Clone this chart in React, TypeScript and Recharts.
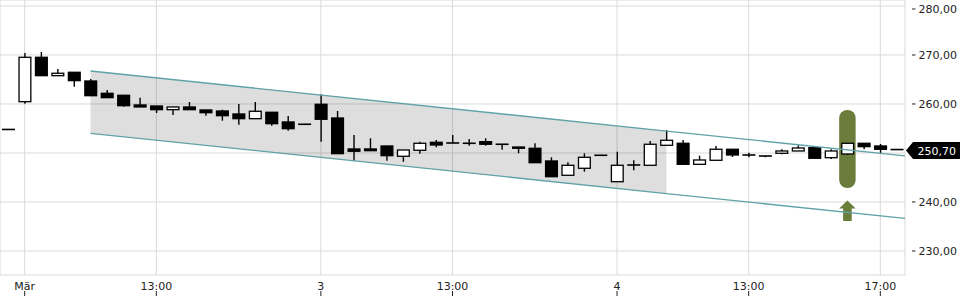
import React from 'react';
import {
  ComposedChart,
  Bar,
  Line,
  Area,
  XAxis,
  YAxis,
  CartesianGrid,
  ReferenceArea,
  ReferenceLine,
} from 'recharts';

// ---- data (30-minute candles, 2.-4. März) ----
const opens = [
  254.8, 260.47, 269.53, 265.78, 266.47, 264.69, 262.18, 261.78, 259.8, 259.59,
  258.84, 259.39, 258.78, 258.57, 257.96, 257.0, 258.31, 256.33, 255.86, 259.94,
  257.14, 250.82, 250.82, 251.43, 249.33, 250.55, 252.18, 252.04, 251.98, 252.31,
  251.78, 251.22, 250.96, 248.37, 245.45, 246.88, 249.53, 244.14, 247.5, 247.49,
  251.57, 251.98, 247.69, 248.51, 250.76, 249.59, 249.39, 249.94, 250.41, 251.08,
  249.04, 249.8, 251.98, 251.43, 250.7,
];
const highs = [
  254.8, 270.41, 270.61, 267.14, 266.47, 265.1, 262.86, 261.78, 261.29, 259.59,
  259.39, 260.41, 258.78, 258.84, 260.0, 260.41, 258.31, 257.55, 255.86, 261.98,
  258.57, 253.67, 253.0, 251.43, 250.61, 252.31, 252.65, 253.67, 252.86, 253.0,
  251.78, 251.22, 251.98, 249.12, 248.1, 249.94, 249.53, 250.27, 248.51, 252.45,
  254.69, 252.65, 249.45, 251.43, 250.76, 250.06, 249.39, 250.76, 251.57, 251.08,
  250.76, 251.98, 251.98, 251.84, 250.7,
];
const lows = [
  254.8, 260.06, 265.78, 265.78, 263.53, 261.69, 261.29, 259.45, 259.39, 258.16,
  257.76, 258.84, 257.61, 256.59, 255.78, 257.0, 255.57, 254.55, 255.86, 252.31,
  249.86, 248.43, 250.47, 248.43, 248.22, 249.86, 251.16, 252.04, 251.49, 251.49,
  250.67, 249.94, 248.02, 245.16, 245.45, 246.18, 249.53, 244.14, 246.47, 247.49,
  251.57, 247.69, 247.69, 248.51, 249.18, 249.12, 249.12, 249.73, 250.41, 248.92,
  248.78, 249.59, 250.76, 249.94, 250.7,
];
const closes = [
  254.8, 269.53, 265.78, 266.27, 264.76, 261.69, 261.29, 259.65, 259.39, 258.84,
  259.39, 258.84, 258.22, 257.61, 257.0, 258.51, 255.98, 254.96, 255.86, 256.88,
  249.86, 250.35, 250.47, 249.45, 250.61, 251.98, 251.63, 252.04, 251.98, 251.78,
  251.78, 250.96, 248.02, 245.16, 247.49, 249.12, 249.53, 247.49, 247.6, 251.78,
  252.59, 247.69, 248.57, 250.76, 249.59, 249.59, 249.39, 250.41, 251.02, 248.92,
  250.41, 251.98, 251.29, 250.76, 250.7,
];

const tickIndex = [1, 9, 19, 27, 37, 45, 53];
const tickLabels = ['Mär', '13:00', '3', '13:00', '4', '13:00', '17:00'];
const yTicks = [230, 240, 250, 260, 270, 280];
const yDomain = [225.1, 281.22];

// trend channel (x in candle index units)
const channelX = [5, 40, 54.5];
const channelUpper = [266.73, 254.48, 249.4];
const channelLower = [254.02, 241.72, 236.65];

const lastPrice = 250.7;
const signalIndex = 51;
const signalRange = [242.86, 258.78];
const arrowRange = [236.12, 240.31];

// ---- derived tables ----
const data = opens.map((o, i) => ({
  i,
  o,
  h: highs[i],
  l: lows[i],
  c: closes[i],
  range: [lows[i], Math.max(highs[i], lows[i] + 0.02)],
}));
const channelLines = channelX.map((x, k) => ({ x, upper: channelUpper[k], lower: channelLower[k] }));
const channelBand = channelX.slice(0, 2).map((x, k) => ({ x, band: [channelLower[k], channelUpper[k]] }));

const FONT = '"DejaVu Sans", sans-serif';
const TEAL = '#5fa2a7';
const GREEN = '#6b7d3a';

const Candle = (props: any) => {
  const { x, y, width, height, payload } = props;
  if (!payload) return null;
  const [lo, hi] = payload.range;
  const k = height / (hi - lo);
  const py = (v: number) => y + (hi - v) * k;
  const cx = x + width / 2;
  const top = py(Math.max(payload.o, payload.c));
  const bot = py(Math.min(payload.o, payload.c));
  const up = payload.c > payload.o;
  const flat = bot - top < 1.2;
  return (
    <g>
      <line x1={cx} x2={cx} y1={py(payload.h)} y2={py(payload.l)} stroke="#000" strokeWidth={1.4} />
      {flat ? (
        <line x1={x} x2={x + width} y1={(top + bot) / 2} y2={(top + bot) / 2} stroke="#000" strokeWidth={1.6} />
      ) : (
        <rect
          x={x + 0.6}
          y={top}
          width={width - 1.2}
          height={bot - top}
          fill={up ? '#fff' : '#000'}
          stroke="#000"
          strokeWidth={1.3}
        />
      )}
    </g>
  );
};

const XTick = (props: any) => {
  const { x, y, payload } = props;
  const idx = tickIndex.indexOf(payload.value);
  return (
    <g>
      <text x={x} y={y + 15} textAnchor="middle" fontFamily={FONT} fontSize={11} fill="#222">
        {tickLabels[idx]}
      </text>
      <line x1={x} x2={x} y1={y + 16} y2={y + 21} stroke="#222" strokeWidth={1} />
    </g>
  );
};

const YTick = (props: any) => {
  const { x, y, payload } = props;
  // the label that sits under the last-price tag is hidden by it
  if (Math.abs(Number(payload.value) - lastPrice) < 2) return <g />;
  return (
    <g>
      <line x1={x + 7} x2={x + 10.5} y1={y} y2={y} stroke="#222" strokeWidth={1} />
      <text x={x + 13.5} y={y} dy="0.36em" textAnchor="start" fontFamily={FONT} fontSize={11} fill="#222">
        {Number(payload.value).toFixed(2).replace('.', ',')}
      </text>
    </g>
  );
};

const PriceTag = (props: any) => {
  const vb = props.viewBox || {};
  const right = (vb.x || 0) + (vb.width || 0);
  const yc = (vb.y || 0) + 1;
  const tip = right + 1;
  const pts = [
    [tip, yc],
    [tip + 7, yc - 8.5],
    [960, yc - 8.5],
    [960, yc + 8.5],
    [tip + 7, yc + 8.5],
  ]
    .map((p) => p.join(','))
    .join(' ');
  return (
    <g>
      <polygon points={pts} fill="#000" />
      <text x={right + 12.5} y={yc} dy="0.36em" fontFamily={FONT} fontSize={11} fill="#fff">
        {lastPrice.toFixed(2).replace('.', ',')}
      </text>
    </g>
  );
};

const Pill = (props: any) => {
  const { x, y, width, height } = props;
  return <rect x={x} y={y} width={width} height={height} rx={8} ry={8} fill={GREEN} />;
};

const Arrow = (props: any) => {
  const { x, y, width, height } = props;
  const cx = x + width / 2;
  const head = 8;
  const sw = 4.3;
  const pts = [
    [cx, y],
    [x + width, y + head],
    [cx + sw, y + head],
    [cx + sw, y + height],
    [cx - sw, y + height],
    [cx - sw, y + head],
    [x, y + head],
  ]
    .map((p) => p.join(','))
    .join(' ');
  return <polygon points={pts} fill={GREEN} />;
};

export default function App() {
  return (
    <div style={{ position: 'absolute', left: 0, top: 0 }}>
      <ComposedChart
        width={960}
        height={300}
        data={data}
        margin={{ top: 0, right: 0, bottom: 0, left: 0 }}
        barCategoryGap="12%"
      >
        <CartesianGrid stroke="#dadada" strokeWidth={1} />
        <XAxis
          dataKey="i"
          type="category"
          ticks={tickIndex}
          interval={0}
          axisLine={false}
          tickLine={false}
          tickSize={0}
          tickMargin={0}
          height={25}
          tick={<XTick />}
        />
        <XAxis xAxisId="n" type="number" dataKey="x" domain={[-0.5, 54.5]} hide allowDataOverflow />
        <YAxis
          orientation="right"
          domain={yDomain}
          ticks={yTicks}
          width={55}
          axisLine={false}
          tickLine={false}
          tickSize={0}
          tickMargin={0}
          allowDataOverflow
          tick={<YTick />}
        />
        <Area
          xAxisId="n"
          data={channelBand}
          dataKey="band"
          type="linear"
          fill="#000"
          fillOpacity={0.13}
          stroke="none"
          dot={false}
          activeDot={false}
          isAnimationActive={false}
        />
        <ReferenceArea
          x1={signalIndex}
          x2={signalIndex}
          y1={signalRange[0]}
          y2={signalRange[1]}
          shape={<Pill />}
        />
        <ReferenceArea
          x1={signalIndex}
          x2={signalIndex}
          y1={arrowRange[0]}
          y2={arrowRange[1]}
          shape={<Arrow />}
        />
        <Line
          xAxisId="n"
          data={channelLines}
          dataKey="upper"
          type="linear"
          stroke={TEAL}
          strokeWidth={1.3}
          dot={false}
          activeDot={false}
          isAnimationActive={false}
        />
        <Line
          xAxisId="n"
          data={channelLines}
          dataKey="lower"
          type="linear"
          stroke={TEAL}
          strokeWidth={1.3}
          dot={false}
          activeDot={false}
          isAnimationActive={false}
        />
        <Bar dataKey="range" shape={<Candle />} isAnimationActive={false} />
        <ReferenceLine y={lastPrice} stroke="none" label={(p: any) => <PriceTag {...p} />} />
      </ComposedChart>
    </div>
  );
}
